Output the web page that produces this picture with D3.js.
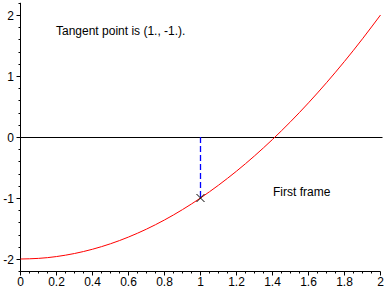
<!DOCTYPE html>
<html><head><meta charset="utf-8">
<script src="https://cdn.jsdelivr.net/npm/d3@7"></script>
<style>body{margin:0;background:#fff}svg{display:block}text{font-family:"Liberation Sans",Arial,sans-serif;font-size:12px;fill:#000}</style>
</head><body><svg id="c" width="388" height="288"></svg>
<script>
const curveX = [0,0.1,0.2,0.3,0.4,0.5,0.6,0.7,0.8,0.9,1.0,1.1,1.2,1.3,1.4,1.5,1.6,1.7,1.8,1.9,2.0];
const curveY = [-2,-1.99,-1.96,-1.91,-1.84,-1.75,-1.64,-1.51,-1.36,-1.19,-1,-0.79,-0.56,-0.31,-0.04,0.25,0.56,0.89,1.24,1.61,2];
const tangentPoint = [1, -1];
const xTicks = [0,0.2,0.4,0.6,0.8,1,1.2,1.4,1.6,1.8,2];
const xTickLabels = ["0","0.2","0.4","0.6","0.8","1","1.2","1.4","1.6","1.8","2"];
const yTicks = [-2,-1,0,1,2];
const yTickLabels = ["-2","-1","0","1","2"];
const title = "Tangent point is (1., -1.).";
const caption = "First frame";

const svg = d3.select("#c");
const x = d3.scaleLinear().domain([0,2]).range([20.5,380.5]);
const y = d3.scaleLinear().domain([-2.2,2.2]).range([271.2,2.8]);
const bottomY = 271.5, leftX = 20.5;

// left axis
svg.append("line").attr("x1",leftX).attr("x2",leftX).attr("y1",y(2.2)).attr("y2",y(-2.2)+0.5).attr("stroke","#000");
d3.range(-2.2,2.2001,0.2).forEach(v=>{
  const major = yTicks.some(t=>Math.abs(t-v)<1e-6);
  const yy = Math.round(y(v))+0.5;
  svg.append("line").attr("x1",leftX-(major?4:2)).attr("x2",leftX).attr("y1",yy).attr("y2",yy).attr("stroke","#000");
});
yTicks.forEach((t,i)=>{
  svg.append("text").attr("x",14).attr("y",Math.round(y(t))+4.5).attr("text-anchor","end").text(yTickLabels[i]);
});
// bottom axis
svg.append("line").attr("x1",leftX).attr("x2",x(2)).attr("y1",bottomY).attr("y2",bottomY).attr("stroke","#000");
d3.range(0,2.0001,0.05).forEach(v=>{
  const major = xTicks.some(t=>Math.abs(t-v)<1e-6);
  const xx = Math.round(x(v)-0.5)+0.5;
  svg.append("line").attr("x1",xx).attr("x2",xx).attr("y1",bottomY).attr("y2",bottomY+(major?4:2)).attr("stroke","#000");
});
xTicks.forEach((t,i)=>{
  svg.append("text").attr("x",x(t)).attr("y",286).attr("text-anchor","middle").text(xTickLabels[i]);
});
// zero line
svg.append("line").attr("x1",leftX).attr("x2",x(2)+2).attr("y1",Math.round(y(0))+0.5).attr("y2",Math.round(y(0))+0.5).attr("stroke","#000");
// curve
const pts = curveX.map((d,i)=>[d,curveY[i]]);
svg.append("path").attr("d",d3.line().x(d=>x(d[0])).y(d=>y(d[1])).curve(d3.curveNatural)(pts))
  .attr("fill","none").attr("stroke","#f00").attr("stroke-width",1);
// dashed vertical
svg.append("line").attr("x1",x(tangentPoint[0])).attr("x2",x(tangentPoint[0]))
  .attr("y1",y(0)).attr("y2",y(tangentPoint[1])).attr("stroke","#00f").attr("stroke-width",1.3).attr("stroke-dasharray","6,3");
// cross marker
const cx = x(tangentPoint[0]), cy = y(tangentPoint[1]);
svg.append("path").attr("d",`M${cx-4},${cy-4}L${cx+4},${cy+4}M${cx-4},${cy+4}L${cx+4},${cy-4}`).attr("stroke","#000").attr("stroke-width",1);
// texts
svg.append("text").attr("x",56).attr("y",35).text(title);
svg.append("text").attr("x",273).attr("y",196).text(caption);
</script></body></html>
